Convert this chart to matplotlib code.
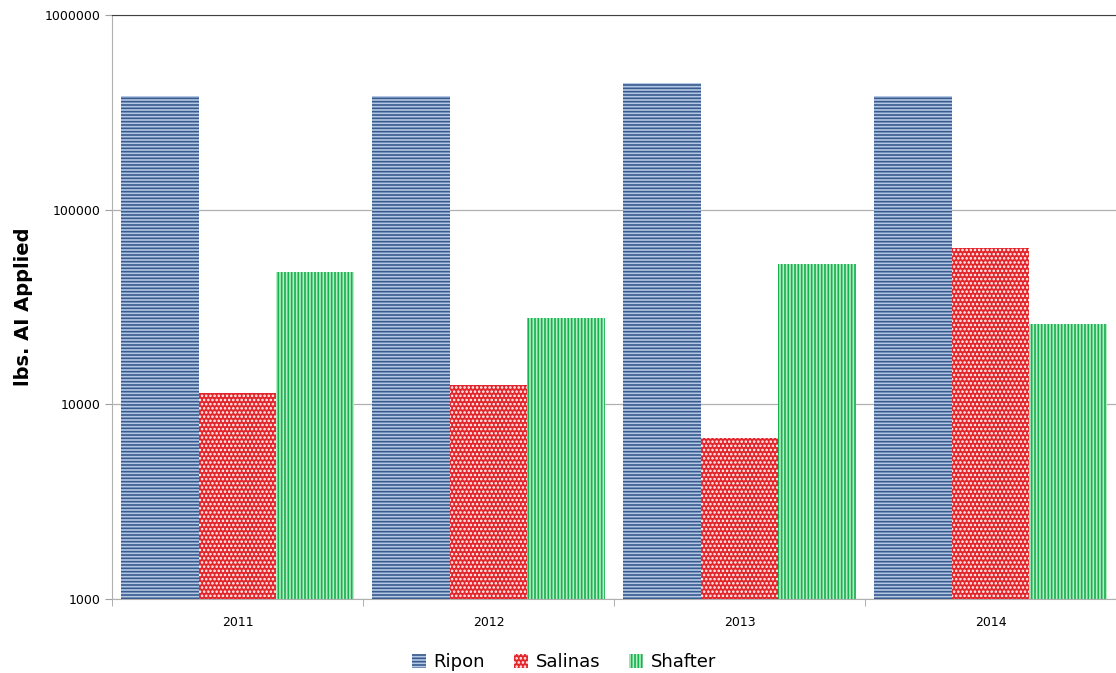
import numpy as np
import matplotlib.pyplot as plt
from matplotlib.ticker import FixedLocator, FuncFormatter

###### DATA ######
years = ["2011", "2012", "2013", "2014"]
ripon = [384000, 384000, 448000, 384000]
salinas = [11450, 12600, 6720, 63600]
shafter = [47900, 27800, 52600, 25900]

BASE = 1000  # bars start at the bottom of the log axis

plt.rcParams['hatch.linewidth'] = 1.2

fig = plt.figure(figsize=(11.16, 6.73), dpi=100)
ax = fig.add_axes([0.1004, 0.110, 0.8996, 0.8677])

x = np.arange(len(years))
w = 0.31

ax.bar(x - w, np.array(ripon) - BASE, w, bottom=BASE, facecolor="#b4c8e6",
       edgecolor="#385a8c", hatch="-----", linewidth=0, label="Ripon", zorder=3)
ax.bar(x, np.array(salinas) - BASE, w, bottom=BASE, facecolor="#e3262b",
       edgecolor="white", hatch="....", linewidth=0, label="Salinas", zorder=3)
ax.bar(x + w, np.array(shafter) - BASE, w, bottom=BASE, facecolor="#b6ecc6",
       edgecolor="#17b14f", hatch="|||||", linewidth=0, label="Shafter", zorder=3)

ax.set_yscale("log")
ax.set_ylim(1000, 1000000)
ax.set_xlim(-0.5, len(years) - 0.5)
ax.yaxis.set_major_locator(FixedLocator([1000, 10000, 100000, 1000000]))
ax.yaxis.set_minor_locator(FixedLocator([]))
ax.yaxis.set_major_formatter(FuncFormatter(lambda v, p: f"{int(v)}"))
ax.grid(axis="y", color="#b0b0b0", linewidth=0.9, zorder=0)

ax.set_xticks(x)
ax.set_xticklabels(years, fontsize=9)
ax.tick_params(axis="x", length=0, pad=12)
ax.set_xticks(np.arange(len(years) + 1) - 0.5, minor=True)
ax.tick_params(axis="x", which="minor", length=5, color="#a0a0a0")
ax.tick_params(axis="y", labelsize=9, length=5, color="#a0a0a0")

ax.spines["right"].set_visible(False)
ax.spines["top"].set_color("#404040")
ax.spines["left"].set_color("#b0b0b0")
ax.spines["bottom"].set_color("#b0b0b0")

ax.set_ylabel("lbs. AI Applied", fontsize=14, fontweight="bold", labelpad=8)

ax.legend(loc="upper center", bbox_to_anchor=(0.45, -0.065), ncol=3, frameon=False,
          fontsize=13, handlelength=0.8, handleheight=0.8, handletextpad=0.4,
          columnspacing=1.6)

plt.savefig("out.png", dpi=100)
